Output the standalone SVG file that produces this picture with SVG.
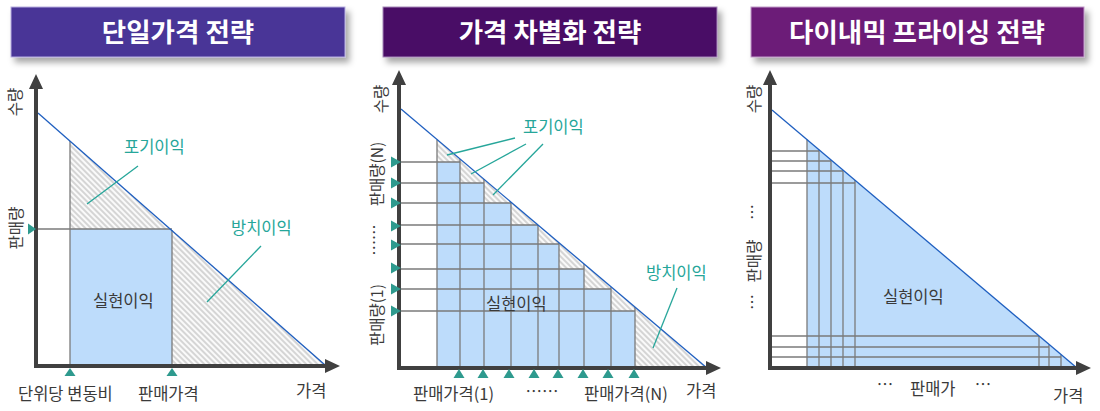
<svg xmlns="http://www.w3.org/2000/svg" width="1100" height="411" viewBox="0 0 1100 411">
<style>
.title{font-family:"Noto Sans CJK KR","Noto Sans",sans-serif;font-size:26.5px;font-weight:bold;fill:#fff;text-anchor:middle}
.lbl{font-family:"Noto Sans CJK KR","Noto Sans",sans-serif;font-size:16.5px;fill:#3a3a3a}
.rl{font-family:"Noto Sans CJK KR","Noto Sans",sans-serif;font-size:15.5px;fill:#3a3a3a}
.teal{font-family:"Noto Sans CJK KR","Noto Sans",sans-serif;font-size:16.5px;fill:#26a69a}
.axis{stroke:#404040;stroke-width:4;fill:none}
.ahead{fill:#404040}
.demand{stroke:#1f5fc0;stroke-width:1.3;fill:none}
.grid{stroke:#7a7a7a;stroke-width:1.3;fill:none}
.lead{stroke:#26a69a;stroke-width:1.3;fill:none}
.mk{fill:#2e9a8e}
.blue{fill:#bddcfb}
.hatch{fill:url(#hp)}
</style>
<defs>
<pattern id="hp" width="4" height="4" patternUnits="userSpaceOnUse" patternTransform="rotate(45)">
<rect width="4" height="4" fill="#fafafa"/>
<line x1="0" y1="1" x2="4" y2="1" stroke="#b0b0b0" stroke-width="1"/>
</pattern>
<filter id="sh" x="-10%" y="-20%" width="130%" height="160%">
<feDropShadow dx="4" dy="5" stdDeviation="3" flood-color="#000" flood-opacity="0.35"/>
</filter>
</defs>
<rect width="1100" height="411" fill="#fff"/>

<!-- Panel 1 -->
<g id="panel1">
<g id="title1">
<rect x="11" y="7" width="334" height="50" fill="#483597" stroke="#b7aee0" stroke-width="1" filter="url(#sh)"/>
<text class="title" x="178" y="42">단일가격 전략</text>
</g>
<g id="area1">
<polygon class="hatch" points="70,141 327,366 70,366"/>
<rect class="blue" x="70" y="229" width="102" height="137"/>
<line class="grid" x1="36" y1="229" x2="172" y2="229"/>
<line class="grid" x1="70" y1="141" x2="70" y2="366"/>
<line class="grid" x1="172" y1="230" x2="172" y2="366"/>
<line class="demand" x1="38" y1="113" x2="325" y2="365"/>
</g>
<g id="axes1">
<line class="axis" x1="36" y1="366" x2="36" y2="86"/>
<polygon class="ahead" points="36,74 29,89 43,89"/>
<line class="axis" x1="34" y1="366" x2="327" y2="366"/>
<polygon class="ahead" points="340,366 325,359 325,373"/>
</g>
<g id="markers1">
<polygon class="mk" points="36,229 28,223.5 28,234.5"/>
<polygon class="mk" points="70,368 64.5,376 75.5,376"/>
<polygon class="mk" points="172,368 166.5,376 177.5,376"/>
</g>
<g id="labels1">
<text class="rl" transform="rotate(-90 14 102)" x="14" y="102" text-anchor="middle" dominant-baseline="central">수량</text>
<text class="rl" transform="rotate(-90 15 228)" x="15" y="228" text-anchor="middle" dominant-baseline="central">판매량</text>
<text class="teal" x="124" y="153">포기이익</text>
<text class="teal" x="231" y="234">방치이익</text>
<text class="lbl" x="93" y="307">실현이익</text>
<text class="lbl" x="18" y="400">단위당 변동비</text>
<text class="lbl" x="138" y="400">판매가격</text>
<text class="lbl" x="296" y="397">가격</text>
</g>
</g>

<!-- Panel 2 -->
<g id="panel2">
<g id="title2">
<rect x="383" y="7" width="334" height="50" fill="#4a0a66" stroke="#a58ab8" stroke-width="1" filter="url(#sh)"/>
<text class="title" x="550" y="42">가격 차별화 전략</text>
</g>
<g id="area2">
<polygon class="hatch" points="437,139.5 707,368 437,368"/>
<polygon class="blue" points="437,368 437,162 460,162 460,183 484,183 484,203 511,203 511,225 538,225 538,244 559,244 559,269 584,269 584,289 611,289 611,311 635,311 635,368"/>
<g class="grid">
<line x1="399" y1="162" x2="460" y2="162"/>
<line x1="399" y1="183" x2="484" y2="183"/>
<line x1="399" y1="203" x2="511" y2="203"/>
<line x1="399" y1="225" x2="538" y2="225"/>
<line x1="399" y1="244" x2="559" y2="244"/>
<line x1="399" y1="269" x2="584" y2="269"/>
<line x1="399" y1="289" x2="611" y2="289"/>
<line x1="399" y1="311" x2="635" y2="311"/>
<line x1="437" y1="139.5" x2="437" y2="368"/>
<line x1="460" y1="159" x2="460" y2="368"/>
<line x1="484" y1="179" x2="484" y2="368"/>
<line x1="511" y1="202" x2="511" y2="368"/>
<line x1="538" y1="225" x2="538" y2="368"/>
<line x1="559" y1="243" x2="559" y2="368"/>
<line x1="584" y1="264" x2="584" y2="368"/>
<line x1="611" y1="287" x2="611" y2="368"/>
<line x1="635" y1="307" x2="635" y2="368"/>
</g>
<line class="demand" x1="401" y1="109" x2="707" y2="368"/>
</g>
<g id="axes2">
<line class="axis" x1="399" y1="368" x2="399" y2="82"/>
<polygon class="ahead" points="399,70 392,85 406,85"/>
<line class="axis" x1="397" y1="368" x2="708" y2="368"/>
<polygon class="ahead" points="721,368 706,361 706,375"/>
</g>
<g id="markers2">
<polygon class="mk" points="401,162 391,156.5 391,167.5"/>
<polygon class="mk" points="401,183 391,177.5 391,188.5"/>
<polygon class="mk" points="401,203 391,197.5 391,208.5"/>
<polygon class="mk" points="401,226 391,220.5 391,231.5"/>
<polygon class="mk" points="401,245 391,239.5 391,250.5"/>
<polygon class="mk" points="401,268 391,262.5 391,273.5"/>
<polygon class="mk" points="401,289 391,283.5 391,294.5"/>
<polygon class="mk" points="401,311 391,305.5 391,316.5"/>
<polygon class="mk" points="459,369 453.5,378 464.5,378"/>
<polygon class="mk" points="483,369 477.5,378 488.5,378"/>
<polygon class="mk" points="509,369 503.5,378 514.5,378"/>
<polygon class="mk" points="534,369 528.5,378 539.5,378"/>
<polygon class="mk" points="558,369 552.5,378 563.5,378"/>
<polygon class="mk" points="583,369 577.5,378 588.5,378"/>
<polygon class="mk" points="608,369 602.5,378 613.5,378"/>
<polygon class="mk" points="634,369 628.5,378 639.5,378"/>
</g>
<g id="labels2">
<text class="rl" transform="rotate(-90 380 99)" x="380" y="99" text-anchor="middle" dominant-baseline="central">수량</text>
<text class="rl" transform="rotate(-90 376 174)" x="376" y="174" text-anchor="middle" dominant-baseline="central">판매량(N)</text>
<text class="rl" transform="rotate(-90 373 240)" x="373" y="240" text-anchor="middle" dominant-baseline="central">……</text>
<text class="rl" transform="rotate(-90 376 315)" x="376" y="315" text-anchor="middle" dominant-baseline="central">판매량(1)</text>
<text class="teal" x="523" y="133">포기이익</text>
<text class="teal" x="646" y="279">방치이익</text>
<text class="lbl" x="486" y="310">실현이익</text>
<text class="lbl" x="413" y="400">판매가격(1)</text>
<text class="lbl" x="542" y="398" text-anchor="middle">……</text>
<text class="lbl" x="584" y="400">판매가격(N)</text>
<text class="lbl" x="686" y="397">가격</text>
</g>
</g>

<!-- Panel 3 -->
<g id="panel3">
<g id="title3">
<rect x="751" y="7" width="333" height="50" fill="#6c1e78" stroke="#c09ac8" stroke-width="1" filter="url(#sh)"/>
<text class="title" x="917" y="42">다이내믹 프라이싱 전략</text>
</g>
<g id="area3">
<polygon class="blue" points="807,139.6 1077,368 807,368"/>
<g class="grid">
<line x1="770" y1="151" x2="819" y2="151"/>
<line x1="770" y1="161" x2="831" y2="161"/>
<line x1="770" y1="171" x2="843" y2="171"/>
<line x1="770" y1="183" x2="855" y2="183"/>
<line x1="770" y1="336" x2="1039" y2="336"/>
<line x1="770" y1="347" x2="1049" y2="347"/>
<line x1="770" y1="357" x2="1061" y2="357"/>
<line x1="807" y1="139.6" x2="807" y2="368"/>
<line x1="819" y1="149.8" x2="819" y2="368"/>
<line x1="831" y1="160" x2="831" y2="368"/>
<line x1="843" y1="170" x2="843" y2="368"/>
<line x1="855" y1="180" x2="855" y2="368"/>
<line x1="1039" y1="336" x2="1039" y2="368"/>
<line x1="1049" y1="344.5" x2="1049" y2="368"/>
<line x1="1061" y1="354.5" x2="1061" y2="368"/>
</g>
<line class="demand" x1="772" y1="110" x2="1077" y2="368"/>
</g>
<g id="axes3">
<line class="axis" x1="770" y1="368" x2="770" y2="82"/>
<polygon class="ahead" points="770,70 763,85 777,85"/>
<line class="axis" x1="768" y1="368" x2="1078" y2="368"/>
<polygon class="ahead" points="1091,368 1076,361 1076,375"/>
</g>
<g id="labels3">
<text class="rl" transform="rotate(-90 753 99)" x="753" y="99" text-anchor="middle" dominant-baseline="central">수량</text>
<text class="rl" transform="rotate(-90 751 212)" x="751" y="212" text-anchor="middle" dominant-baseline="central">…</text>
<text class="rl" transform="rotate(-90 753 261)" x="753" y="261" text-anchor="middle" dominant-baseline="central">판매량</text>
<text class="rl" transform="rotate(-90 751 302)" x="751" y="302" text-anchor="middle" dominant-baseline="central">…</text>
<text class="lbl" x="883" y="303">실현이익</text>
<text class="lbl" x="885" y="391" text-anchor="middle">…</text>
<text class="lbl" x="910" y="395">판매가</text>
<text class="lbl" x="983" y="391" text-anchor="middle">…</text>
<text class="lbl" x="1053" y="402">가격</text>
</g>
</g>

<g id="connectors">
<line class="lead" x1="138" y1="166" x2="87" y2="204"/>
<line class="lead" x1="261" y1="246" x2="207" y2="302"/>
<line class="lead" x1="515" y1="138" x2="447" y2="155"/>
<line class="lead" x1="526" y1="144" x2="471" y2="174"/>
<line class="lead" x1="543" y1="144" x2="493" y2="195"/>
<line class="lead" x1="677" y1="288" x2="653" y2="348"/>
</g>
</svg>
